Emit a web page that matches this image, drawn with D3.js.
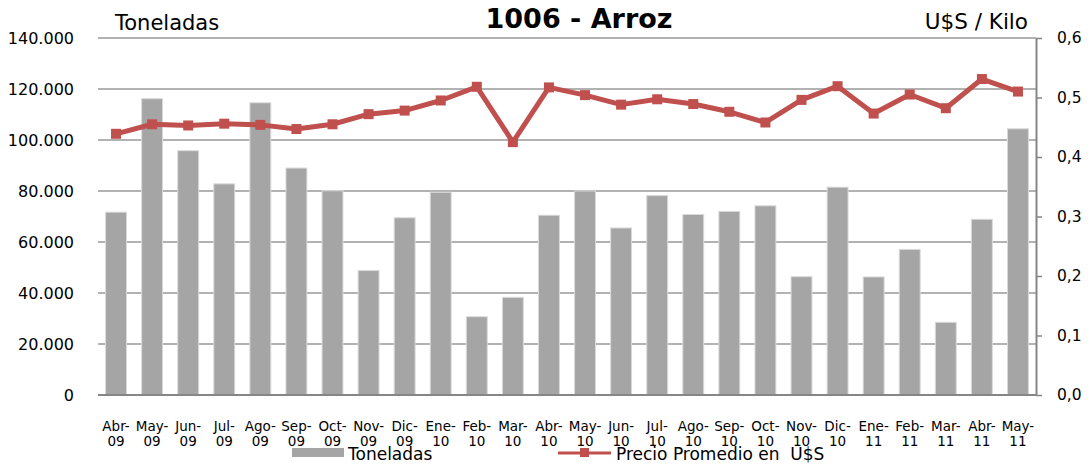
<!DOCTYPE html>
<html>
<head>
<meta charset="utf-8">
<script src="https://cdn.jsdelivr.net/npm/d3@7"></script>
<style>
  body { margin: 0; background: #fff; }
  svg { font-family: "DejaVu Sans", Verdana, sans-serif; }
</style>
</head>
<body>
<div id="chart"></div>
<script>
// frame
const FRAME_WIDTH = 1089;
const FRAME_HEIGHT = 464;
const PLOT = {left: 98, right: 1036, top: 38, bottom: 395};

// data
const MONTHS = ["Abr-", "May-", "Jun-", "Jul-", "Ago-", "Sep-", "Oct-", "Nov-", "Dic-", "Ene-", "Feb-", "Mar-", "Abr-",
                "May-", "Jun-", "Jul-", "Ago-", "Sep-", "Oct-", "Nov-", "Dic-", "Ene-", "Feb-", "Mar-", "Abr-", "May-"];
const YEARS = ["09", "09", "09", "09", "09", "09", "09", "09", "09", "10", "10", "10", "10",
               "10", "10", "10", "10", "10", "10", "10", "10", "11", "11", "11", "11", "11"];
const TONELADAS = [71700, 116200, 95800, 82800, 114600, 89000, 80100, 48800, 69500, 79500, 30700, 38300, 70500,
                   80000, 65500, 78200, 70800, 72000, 74200, 46400, 81500, 46300, 57100, 28500, 68900, 104400];
const PRECIO = [0.439, 0.455, 0.453, 0.456, 0.454, 0.447, 0.455, 0.472, 0.478, 0.495, 0.518, 0.425, 0.517,
                0.504, 0.488, 0.497, 0.489, 0.476, 0.458, 0.496, 0.519, 0.473, 0.505, 0.482, 0.531, 0.510];
const LEFT_TICKS = [0, 20000, 40000, 60000, 80000, 100000, 120000, 140000];
const RIGHT_TICKS = [0, 0.1, 0.2, 0.3, 0.4, 0.5, 0.6];

const BAR_COLOR = "#a5a5a5";
const LINE_COLOR = "#c0504d";

const svg = d3.select("#chart")
  .append("svg")
    .attr("width", FRAME_WIDTH)
    .attr("height", FRAME_HEIGHT);

const idx = d3.range(MONTHS.length);

// scales
const X_SCALE = d3.scaleBand()
  .domain(idx)
  .range([PLOT.left, PLOT.right])
  .paddingInner(0.42)
  .paddingOuter(0.21);

const Y_LEFT = d3.scaleLinear().domain([0, 140000]).range([PLOT.bottom, PLOT.top]);
const Y_RIGHT = d3.scaleLinear().domain([0, 0.6]).range([PLOT.bottom, PLOT.top]);

const fmtThousands = d3.formatLocale({decimal: ",", thousands: ".", grouping: [3], currency: ["", ""]}).format(",");
const fmtDec = (v) => d3.format(".1f")(v).replace(".", ",");

// gridlines
svg.append("g")
  .selectAll("line")
  .data(LEFT_TICKS.filter(d => d > 0))
  .enter()
  .append("line")
    .attr("x1", PLOT.left)
    .attr("x2", PLOT.right)
    .attr("y1", d => Y_LEFT(d))
    .attr("y2", d => Y_LEFT(d))
    .attr("stroke", "#999")
    .attr("stroke-width", 1.5);

// left axis (labels only)
const leftAxis = svg.append("g")
  .attr("transform", "translate(" + (PLOT.left - 21) + ",0)")
  .call(d3.axisLeft(Y_LEFT).tickValues(LEFT_TICKS).tickSize(0).tickFormat(fmtThousands));
leftAxis.select(".domain").remove();
leftAxis.selectAll("text")
  .attr("font-size", "16px")
  .attr("fill", "#000")
  .attr("font-family", "DejaVu Sans, Verdana, sans-serif");

// bars
svg.append("g")
  .selectAll("rect")
  .data(idx)
  .enter()
  .append("rect")
    .attr("x", i => X_SCALE(i))
    .attr("y", i => Y_LEFT(TONELADAS[i]))
    .attr("width", X_SCALE.bandwidth())
    .attr("height", i => Y_LEFT(0) - Y_LEFT(TONELADAS[i]))
    .attr("fill", BAR_COLOR)
    .attr("stroke", "#dadada")
    .attr("stroke-width", 1);

// bottom axis line
svg.append("line")
  .attr("x1", PLOT.left)
  .attr("x2", PLOT.right)
  .attr("y1", PLOT.bottom)
  .attr("y2", PLOT.bottom)
  .attr("stroke", "#868686")
  .attr("stroke-width", 2);

// right axis
const rightAxis = svg.append("g")
  .attr("transform", "translate(" + PLOT.right + ",0)")
  .call(d3.axisRight(Y_RIGHT).tickValues(RIGHT_TICKS).tickSize(6).tickSizeOuter(0).tickPadding(15).tickFormat(fmtDec));
rightAxis.select(".domain").attr("stroke", "#868686").attr("stroke-width", 2);
rightAxis.selectAll(".tick line").attr("stroke", "#868686").attr("stroke-width", 1.5);
rightAxis.selectAll("text")
  .attr("font-size", "15.5px")
  .attr("fill", "#000")
  .attr("font-family", "DejaVu Sans, Verdana, sans-serif");

// x labels, two lines
const xLabels = svg.append("g")
  .selectAll("text")
  .data(idx)
  .enter()
  .append("text")
    .attr("x", i => X_SCALE(i) + X_SCALE.bandwidth() / 2)
    .attr("y", 431)
    .attr("text-anchor", "middle")
    .attr("font-size", "13.5px")
    .attr("fill", "#000");
xLabels.append("tspan").attr("x", i => X_SCALE(i) + X_SCALE.bandwidth() / 2).text(i => MONTHS[i]);
xLabels.append("tspan").attr("x", i => X_SCALE(i) + X_SCALE.bandwidth() / 2).attr("dy", 15).text(i => YEARS[i]);

// price line
const line = d3.line()
  .x(i => X_SCALE(i) + X_SCALE.bandwidth() / 2)
  .y(i => Y_RIGHT(PRECIO[i]));

svg.append("path")
  .datum(idx)
  .attr("d", line)
  .attr("fill", "none")
  .attr("stroke", LINE_COLOR)
  .attr("stroke-width", 5)
  .attr("stroke-linejoin", "round");

svg.append("g")
  .selectAll("rect")
  .data(idx)
  .enter()
  .append("rect")
    .attr("x", i => X_SCALE(i) + X_SCALE.bandwidth() / 2 - 5)
    .attr("y", i => Y_RIGHT(PRECIO[i]) - 5)
    .attr("width", 10)
    .attr("height", 10)
    .attr("fill", LINE_COLOR);

// titles
svg.append("text")
  .attr("x", 579).attr("y", 28)
  .attr("text-anchor", "middle")
  .attr("font-size", "27px")
  .attr("font-weight", "bold")
  .text("1006 - Arroz");

svg.append("text")
  .attr("x", 115).attr("y", 30)
  .attr("font-size", "21px")
  .text("Toneladas");

svg.append("text")
  .attr("x", 1028).attr("y", 29)
  .attr("text-anchor", "end")
  .attr("font-size", "21.5px")
  .text("U$S / Kilo");

// legend
const legend = svg.append("g");
legend.append("rect")
  .attr("x", 292).attr("y", 448)
  .attr("width", 52).attr("height", 9)
  .attr("fill", BAR_COLOR);
legend.append("text")
  .attr("x", 348).attr("y", 460)
  .attr("font-size", "17px")
  .text("Toneladas");
legend.append("line")
  .attr("x1", 558).attr("x2", 611)
  .attr("y1", 453).attr("y2", 453)
  .attr("stroke", LINE_COLOR)
  .attr("stroke-width", 3);
legend.append("rect")
  .attr("x", 580).attr("y", 448)
  .attr("width", 9).attr("height", 9)
  .attr("fill", LINE_COLOR);
legend.append("text")
  .attr("x", 616).attr("y", 460)
  .attr("font-size", "17px")
  .style("white-space", "pre")
  .text("Precio Promedio en  U$S");
</script>
</body>
</html>
